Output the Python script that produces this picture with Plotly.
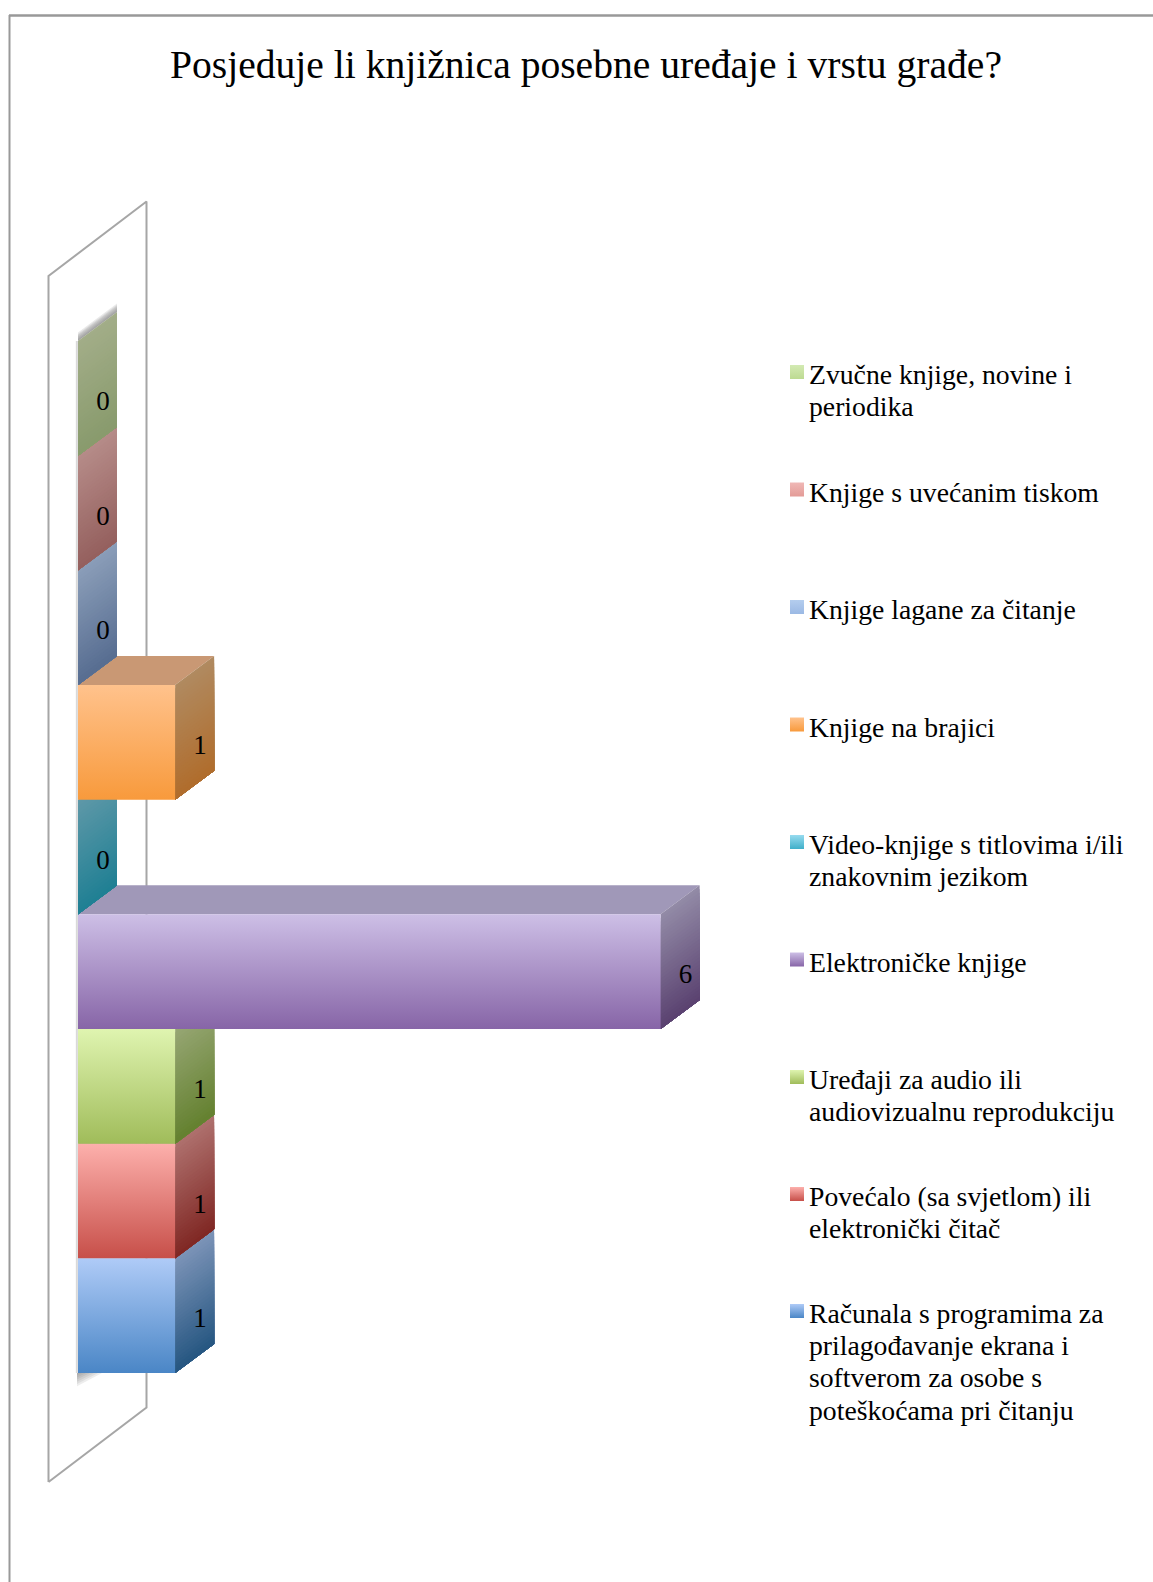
import plotly.graph_objects as go

# Series, bottom slot first
categories = [
    "Računala s programima za<br>prilagođavanje ekrana i<br>softverom za osobe s<br>poteškoćama pri čitanju",
    "Povećalo (sa svjetlom) ili<br>elektronički čitač",
    "Uređaji za audio ili<br>audiovizualnu reprodukciju",
    "Elektroničke knjige",
    "Video-knjige s titlovima i/ili<br>znakovnim jezikom",
    "Knjige na brajici",
    "Knjige lagane za čitanje",
    "Knjige s uvećanim tiskom",
    "Zvučne knjige, novine i<br>periodika",
]
values = [1, 1, 1, 6, 0, 1, 0, 0, 0]
title_text = "Posjeduje li knjižnica posebne uređaje i vrstu građe?"

front_top = ["#AFCBF7", "#FDB0AC", "#DFF4B0", "#CDBFE6", "#97DBEF", "#FFC28C", "#B4CDEE", "#F0B8B6", "#D3EAB3"]
front_bot = ["#4A86C6", "#C74F49", "#A0BC5A", "#8765A7", "#3FAFC9", "#F89A3C", "#9BB9E4", "#E39B97", "#BDDA92"]
side_top = ["#7B93B7", "#AE706D", "#96A673", "#928AA6", "#5E98A8", "#B08A60", "#8A9DB8", "#B58B88", "#A2AD88"]
side_bot = ["#245580", "#7F2622", "#63802E", "#59406F", "#1E7F93", "#B06C2B", "#566C90", "#945F5D", "#889A6C"]
roof = ["#8AA0C0", "#C08A86", "#A9B98C", "#A098B8", "#7AAFC0", "#C99874", "#8FA3BE", "#BC918E", "#A8B48E"]

W, H = 1153, 1582
X0, PX_PER_UNIT = 78.0, 97.1
Y0, PX_PER_SLOT = 1373.0, 114.67
DX = 39 / PX_PER_UNIT      # depth of a bar along the value axis
DY = 29 / PX_PER_SLOT      # depth of a bar along the category axis
WALL_OUT = 29.5 / PX_PER_UNIT
WALL_DEPTH_X = 98 / PX_PER_UNIT
WALL_DEPTH_Y = 74.5 / PX_PER_SLOT
WALL_LOW = -109 / PX_PER_SLOT
WALL_HIGH = 9 + 65 / PX_PER_SLOT
FONT = "Liberation Serif"
LEG_SIZE = 27.7
LINE_PX = 32.2
LEG_TOPS = [1304, 1187, 1070, 952.5, 835, 717.5, 600, 482.5, 365]


def hex2rgb(h):
    return [int(h[k:k + 2], 16) for k in (1, 3, 5)]


def mix(a, b, t):
    ca, cb = hex2rgb(a), hex2rgb(b)
    return "rgb(%d,%d,%d)" % tuple(round(p + (q - p) * t) for p, q in zip(ca, cb))


fig = go.Figure()


def poly(xs, ys, color, name=""):
    fig.add_trace(go.Scatter(x=xs + xs[:1], y=ys + ys[:1], mode="lines", fill="toself",
                             fillcolor=color, line=dict(width=0), name=name, hoverinfo="skip"))


def grad_poly(xs, ys, top, bot, name="", xa="x", ya="y"):
    fig.add_trace(go.Scatter(x=xs + xs[:1], y=ys + ys[:1], mode="lines", fill="toself", xaxis=xa, yaxis=ya,
                             fillgradient=dict(type="vertical", colorscale=[[0, bot], [1, top]]),
                             line=dict(width=0), name=name, hoverinfo="skip"))


# wall behind the bars
wx = [-WALL_OUT, -WALL_OUT + WALL_DEPTH_X, -WALL_OUT + WALL_DEPTH_X, -WALL_OUT]
wy = [WALL_LOW, WALL_LOW + WALL_DEPTH_Y, WALL_HIGH + WALL_DEPTH_Y, WALL_HIGH]
fig.add_trace(go.Scatter(x=wx + wx[:1], y=wy + wy[:1], mode="lines", fill="toself", fillcolor="white",
                         line=dict(color="#A6A6A6", width=2), name="wall", hoverinfo="skip"))

# soft shadows
n_bars = len(values)
for k in range(6):
    lift = (6 - k) * 1.4 / PX_PER_SLOT
    poly([0, DX, DX, 0], [n_bars, n_bars + DY, n_bars + DY + lift, n_bars + lift], "rgba(120,120,120,0.16)")
for k in range(6):
    drop = (6 - k) * 2.2 / PX_PER_SLOT
    run = (6 - k) * 4 / PX_PER_UNIT
    poly([-0.01, run, -0.01], [0, 0, -drop], "rgba(110,110,110,0.12)")
fig.add_trace(go.Scatter(x=[-0.012, -0.012], y=[0, n_bars], mode="lines",
                         line=dict(color="#D9D9D9", width=2), hoverinfo="skip"))

# bars, lowest slot first: each upper bar covers the roof of the one beneath it
STRIPS = 32
for i in range(n_bars):
    v = values[i]
    if v > 0:
        poly([0, v, v + DX, DX], [i + 1, i + 1, i + 1 + DY, i + 1 + DY], roof[i], categories[i])
    for s in range(STRIPS):
        t = s / STRIPS
        yt = i + 1 - t
        poly([v, v + DX, v + DX, v], [yt, yt + DY, i + DY, i],
             mix(side_top[i], side_bot[i], t), categories[i])
    if v > 0:
        grad_poly([0, v, v, 0], [i, i, i + 1, i + 1], front_top[i], front_bot[i], categories[i])

# value labels
fig.add_trace(go.Scatter(x=[v + 25 / PX_PER_UNIT for v in values],
                         y=[i + 0.5 - 5 / PX_PER_SLOT for i in range(n_bars)],
                         text=[str(v) for v in values], mode="text", textposition="middle center",
                         textfont=dict(family=FONT, size=27, color="#000000"), hoverinfo="skip"))

# legend swatches on a pixel-mapped overlay axis pair
for i, top in enumerate(LEG_TOPS):
    grad_poly([790, 804, 804, 790], [top, top, top + 14, top + 14], front_top[i], front_bot[i],
              categories[i], "x2", "y2")

annotations = []
for i, top in enumerate(LEG_TOPS):
    annotations.append(dict(x=807 / W, y=1 - (top - 8) / H, xref="paper", yref="paper", xanchor="left", yanchor="top",
                            text=categories[i], align="left", showarrow=False,
                            font=dict(family=FONT, size=LEG_SIZE, color="#000000")))

fig.update_layout(
    width=W, height=H, margin=dict(l=0, r=0, t=0, b=0), showlegend=False,
    paper_bgcolor="white", plot_bgcolor="white",
    title=dict(text=title_text, x=586 / W, xanchor="center", y=1 - 64.5 / H, yanchor="middle",
               font=dict(family=FONT, size=39.6, color="#000000")),
    xaxis=dict(range=[-X0 / PX_PER_UNIT, (W - X0) / PX_PER_UNIT], visible=False, fixedrange=True),
    yaxis=dict(range=[(Y0 - H) / PX_PER_SLOT, Y0 / PX_PER_SLOT], visible=False, fixedrange=True),
    xaxis2=dict(range=[0, W], visible=False, overlaying="x", fixedrange=True),
    yaxis2=dict(range=[H, 0], visible=False, overlaying="y", fixedrange=True),
    annotations=annotations,
    shapes=[dict(type="line", xref="paper", yref="paper", x0=9.5 / W, x1=9.5 / W, y0=0, y1=1 - 15 / H,
                 line=dict(color="#999999", width=2)),
            dict(type="line", xref="paper", yref="paper", x0=9 / W, x1=1, y0=1 - 15.5 / H, y1=1 - 15.5 / H,
                 line=dict(color="#999999", width=2.5))],
)

# tighten the legend's line spacing to the reference's (plotly's own is fixed at 1.3em)
post = """
document.body.style.margin='0';document.documentElement.style.overflow='hidden';
document.querySelectorAll('.annotation-text tspan.line').forEach(function(t){
  var d=parseFloat(t.getAttribute('dy')||'0');
  t.setAttribute('dy',(d*%f)+'em');
});
""" % (LINE_PX / (1.3 * LEG_SIZE))

fig.write_html("out.html", config=dict(displayModeBar=False), post_script=post)
